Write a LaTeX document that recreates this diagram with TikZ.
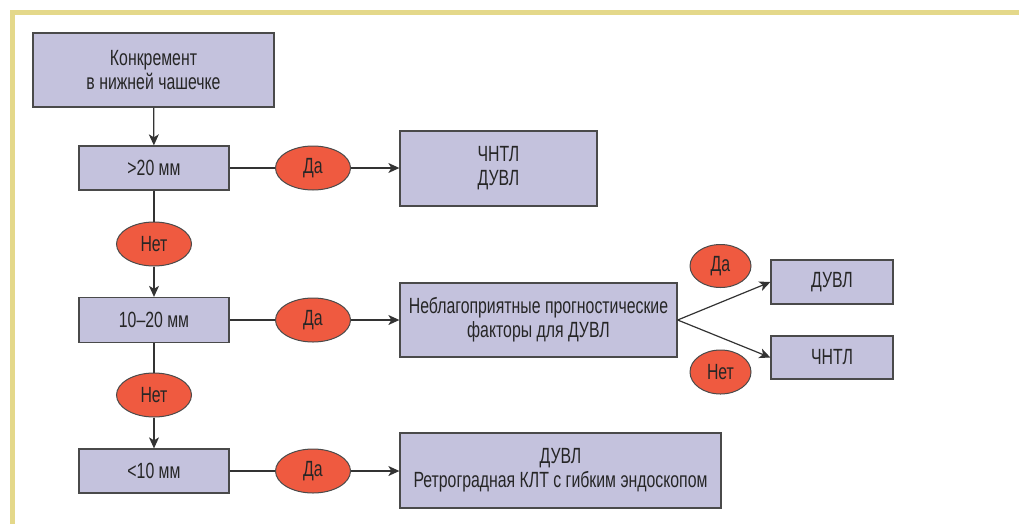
\documentclass[tikz,border=0pt]{standalone}
\usepackage{fontspec}
\setmainfont{Liberation Sans}[FakeStretch=0.72]
\usetikzlibrary{shapes.geometric,arrows.meta}
\definecolor{frameY}{HTML}{E4D88A}
\definecolor{boxF}{HTML}{C4C2DD}
\definecolor{boxD}{HTML}{4A4A4A}
\definecolor{ovalF}{HTML}{EF5A40}
\definecolor{lineC}{HTML}{333333}
\begin{document}
\begin{tikzpicture}[x=1pt,y=-1pt,
  box/.style={draw=boxD,line width=1.3pt,fill=boxF,align=center,font=\fontsize{22}{24}\selectfont,inner sep=0pt,text=black!85},
  oval/.style={ellipse,draw=boxD,line width=1pt,fill=ovalF,font=\fontsize{22}{24}\selectfont,inner sep=0pt,minimum width=75pt,minimum height=44pt,text=black!85},
  ln/.style={draw=lineC,line width=1.2pt},
  arr/.style={ln,-{Stealth[length=11pt,width=10pt,inset=3pt]}}]
\useasboundingbox (0,0) rectangle (1019,523);
\draw[frameY,line width=5pt] (12.5,530) -- (12.5,12.5) -- (1030,12.5);
\node[box,minimum width=241pt,minimum height=74pt] (k) at (153.5,70) {Конкремент\\в нижней чашечке};
\node[box,minimum width=150pt,minimum height=44pt] (b20) at (154,168) {>20 мм};
\node[box,minimum width=150pt,minimum height=45pt] (b1020) at (154,320) {10–20 мм};
\node[box,minimum width=150pt,minimum height=44pt] (b10) at (154,471) {<10 мм};
\node[oval] (da1) at (313,168) {Да};
\node[oval] (da2) at (313,320) {Да};
\node[oval] (da3) at (313,471) {Да};
\node[oval] (net1) at (154,244) {Нет};
\node[oval] (net2) at (154,395) {Нет};
\node[box,minimum width=197pt,minimum height=75pt] (r1) at (498.5,168.5) {ЧНТЛ\\ДУВЛ};
\node[box,minimum width=277pt,minimum height=74pt] (r2) at (538.5,320) {Неблагоприятные прогностические\\факторы для ДУВЛ};
\node[box,minimum width=321pt,minimum height=75pt] (r3) at (560.5,470.5) {ДУВЛ\\Ретроградная КЛТ с гибким эндоскопом};
\node[box,minimum width=122pt,minimum height=44pt] (d) at (832,282) {ДУВЛ};
\node[box,minimum width=122pt,minimum height=43pt] (c) at (832,357.5) {ЧНТЛ};
\node[oval,minimum width=61pt,minimum height=43pt] (da4) at (720.5,266) {Да};
\node[oval,minimum width=61pt,minimum height=44pt] (net3) at (720.5,372) {Нет};
\draw[arr] (k) -- (b20);
\draw[ln] (b20) -- (net1);
\draw[arr] (net1) -- (b1020);
\draw[ln] (b1020) -- (net2);
\draw[arr] (net2) -- (b10);
\draw[ln] (b20) -- (da1); \draw[arr] (da1) -- (r1.west|-da1);
\draw[ln] (b1020) -- (da2); \draw[arr] (da2) -- (r2.west|-da2);
\draw[ln] (b10) -- (da3); \draw[arr] (da3) -- (r3.west|-da3);
\draw[arr] (r2.east) -- (d.west);
\draw[arr] (r2.east) -- (c.west);
\end{tikzpicture}
\end{document}
